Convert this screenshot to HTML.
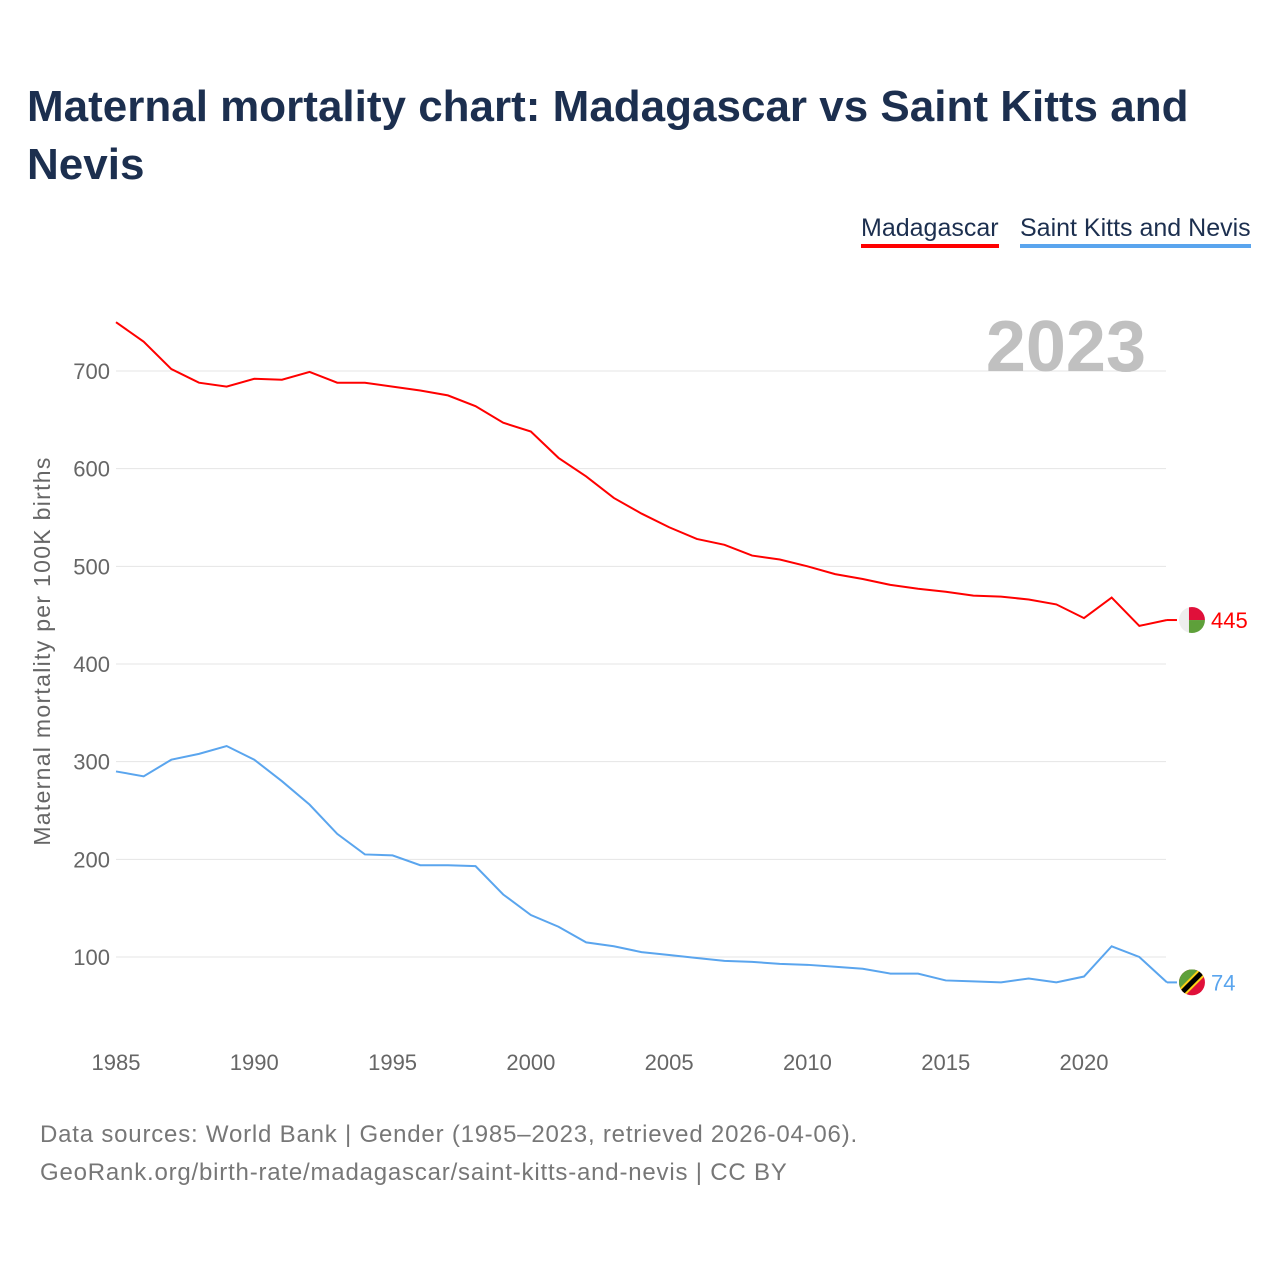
<!DOCTYPE html>
<html><head><meta charset="utf-8">
<style>
body{margin:0;background:#fff;width:1280px;height:1280px;overflow:hidden;font-family:"Liberation Sans",sans-serif;}
#title{position:absolute;left:27px;top:78px;width:1240px;font-size:44px;font-weight:bold;color:#1c2f4f;line-height:58px;letter-spacing:0px;}
.leg{position:absolute;top:214px;font-size:25px;color:#1c2f4f;padding-bottom:1px;}
#foot{position:absolute;left:40px;top:1116px;font-size:24px;color:#777;line-height:38px;letter-spacing:0.8px;}
</style></head><body>
<div id="title">Maternal mortality chart: Madagascar vs Saint Kitts and Nevis</div>
<div class="leg" style="left:861px;border-bottom:4px solid #f00">Madagascar</div>
<div class="leg" style="left:1020px;border-bottom:4px solid #5aa5ee">Saint Kitts and Nevis</div>
<svg id="chart" width="1280" height="1280" style="position:absolute;left:0;top:0"></svg>
<div id="foot">Data sources: World Bank | Gender (1985–2023, retrieved 2026-04-06).<br>GeoRank.org/birth-rate/madagascar/saint-kitts-and-nevis | CC BY</div>
<script>
const years=[];for(let y=1985;y<=2023;y++)years.push(y);
const madagascar=[750,730,702,688,684,692,691,699,688,688,684,680,675,664,647,638,611,592,570,554,540,528,522,511,507,500,492,487,481,477,474,470,469,466,461,447,468,439,445];
const saintKitts=[290,285,302,308,316,302,280,256,226,205,204,194,194,193,164,143,131,115,111,105,102,99,96,95,93,92,90,88,83,83,76,75,74,78,74,80,111,100,74];
const yTicks=[100,200,300,400,500,600,700];
const xTicks=[1985,1990,1995,2000,2005,2010,2015,2020];
const NS="http://www.w3.org/2000/svg";
const svg=document.getElementById('chart');
const X=y=>116+(y-1985)*(1084-116)/35;
const Y=v=>957-(v-100)*0.9767;
function mk(t,a,txt,parent){const e=document.createElementNS(NS,t);for(const k in a)e.setAttribute(k,a[k]);if(txt!==undefined)e.textContent=txt;(parent||svg).appendChild(e);return e;}
const defs=mk('defs',{});
for(const t of yTicks){
 const l=mk('line',{x1:116,x2:1166,y1:Y(t),y2:Y(t),stroke:'#e4e4e4','stroke-width':1});
 
 
 const tx=mk('text',{x:110,y:Y(t)+8,'text-anchor':'end','font-size':22,fill:'#666'},t);
 
 
}
for(const t of xTicks){
 const tx=mk('text',{x:X(t),y:1070,'text-anchor':'middle','font-size':22,fill:'#666'},t);
 
 
}
const yt=mk('text',{transform:'translate(50,651) rotate(-90)','text-anchor':'middle','font-size':23,fill:'#666','letter-spacing':'1.3'},'Maternal mortality per 100K births');


const yr=mk('text',{x:1146,y:371,'text-anchor':'end','font-size':72,'font-weight':'bold',fill:'#c0c0c0'},'2023');


function flag(name,cx,cy){
 const id='clip-'+name;
 const cp=mk('clipPath',{id:id},undefined,defs);
 mk('circle',{cx:cx,cy:cy,r:13},undefined,cp);
 const g=mk('g',{'clip-path':'url(#'+id+')'});
 
 
 if(name==='madagascar'){
  mk('rect',{x:cx-13,y:cy-13,width:26,height:26,fill:'#eee'},undefined,g);
  mk('rect',{x:cx-3,y:cy-13,width:16,height:13,fill:'#e0103a'},undefined,g);
  mk('rect',{x:cx-3,y:cy,width:16,height:13,fill:'#5ea03a'},undefined,g);
 }else{
  mk('rect',{x:cx-13,y:cy-13,width:26,height:26,fill:'#e0103a'},undefined,g);
  mk('polygon',{points:(cx-13)+','+(cy-13)+' '+(cx+13)+','+(cy-13)+' '+(cx-13)+','+(cy+13),fill:'#5ea03a'},undefined,g);
  mk('line',{x1:cx-14,y1:cy+14,x2:cx+14,y2:cy-14,stroke:'#fcd116','stroke-width':9},undefined,g);
  mk('line',{x1:cx-14,y1:cy+14,x2:cx+14,y2:cy-14,stroke:'#000','stroke-width':5},undefined,g);
 }
}
function series(vals,color,name){
 const p=mk('polyline',{points:vals.map((v,i)=>X(years[i])+','+Y(v)).join(' '),fill:'none',stroke:color,'stroke-width':2});
 
 
 const last=vals[vals.length-1];
 const lx=X(years[years.length-1]);
 mk('line',{x1:lx,x2:lx+10,y1:Y(last),y2:Y(last),stroke:color,'stroke-width':2});
 flag(name,lx+25,Y(last));
 const t=mk('text',{x:lx+44,y:Y(last)+8,'font-size':22,fill:color},last);
 
 
}
series(madagascar,'#ff0000','madagascar');
series(saintKitts,'#5aa5ee','saint-kitts');
</script>
</body></html>
